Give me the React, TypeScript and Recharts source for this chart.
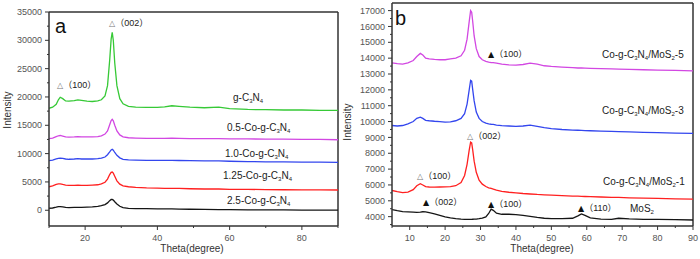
import { LineChart, Line, XAxis, YAxis, ReferenceLine } from "recharts";

// panel a: Co-g-C3N4 series
const THETA_A = [10, 11, 12, 12.6, 13.1, 13.8, 14.6, 15.5, 17, 18, 19, 20.5, 22, 23.5, 24.5, 25.5, 26.2, 26.8, 27.2, 27.5, 27.8, 28.2, 28.8, 29.6, 30.5, 32, 34, 37, 40, 42, 44, 46, 49, 53, 57, 60, 65, 70, 75, 80, 85, 90];
const G_C3N4 = [18000, 18200, 18700, 19500, 19950, 19700, 19300, 19250, 19350, 19500, 19400, 19250, 19200, 19300, 19500, 20200, 22000, 26500, 30200, 31400, 30000, 26000, 22000, 19700, 18800, 18350, 18200, 18150, 18150, 18250, 18450, 18350, 18200, 18100, 18200, 17950, 17800, 17750, 17700, 17700, 17650, 17650];
const CO_05 = [12650, 12750, 13000, 13150, 13200, 13100, 12950, 12900, 12950, 13000, 12950, 12950, 12950, 13000, 13150, 13450, 14000, 15100, 15850, 16050, 15800, 15000, 14000, 13300, 12950, 12800, 12750, 12700, 12700, 12700, 12750, 12700, 12650, 12650, 12650, 12600, 12600, 12550, 12550, 12500, 12500, 12450];
const CO_10 = [8750, 8850, 9050, 9150, 9200, 9150, 9050, 9000, 9050, 9100, 9050, 9050, 9050, 9100, 9200, 9400, 9800, 10300, 10650, 10750, 10600, 10200, 9700, 9250, 9000, 8900, 8850, 8800, 8800, 8800, 8820, 8780, 8750, 8700, 8700, 8650, 8600, 8550, 8550, 8500, 8480, 8450];
const CO_125 = [4150, 4300, 4550, 4650, 4650, 4550, 4450, 4400, 4400, 4450, 4400, 4400, 4450, 4500, 4650, 4950, 5500, 6300, 6700, 6750, 6550, 6000, 5200, 4600, 4300, 4150, 4050, 3950, 3900, 3880, 3880, 3850, 3800, 3750, 3750, 3700, 3680, 3650, 3620, 3600, 3600, 3580];
const CO_25 = [350, 400, 550, 650, 650, 600, 500, 480, 500, 520, 520, 550, 600, 700, 800, 1000, 1300, 1700, 1900, 1900, 1800, 1500, 1100, 700, 450, 330, 300, 280, 250, 230, 230, 200, 180, 150, 120, 100, 80, 60, 50, 30, 20, 10];

// panel b: Co-g-C3N4/MoS2 series
const THETA_B = [5, 6.5, 8, 9.5, 11, 12, 13, 13.7, 14.5, 15.5, 17, 18.5, 20, 21.5, 23, 24.5, 25.5, 26.2, 26.8, 27.2, 27.5, 27.8, 28.2, 28.8, 29.6, 30.5, 31.5, 32.3, 33, 33.6, 34.5, 36, 38, 40, 42, 44, 46, 48, 50, 53, 56, 57.5, 58.5, 59.5, 61, 64, 67, 69, 72, 76, 80, 85, 90];
const MOS2_5 = [13700, 13650, 13620, 13700, 13850, 14100, 14300, 14200, 14000, 13950, 13920, 13900, 13900, 13950, 14000, 14150, 14500, 15200, 16300, 17000, 16900, 16300, 15400, 14600, 14100, 13900, 13800, 13750, 13720, 13720, 13680, 13620, 13580, 13560, 13600, 13680, 13620, 13520, 13480, 13440, 13400, 13380, 13380, 13370, 13360, 13340, 13320, 13310, 13290, 13270, 13250, 13230, 13200];
const MOS2_3 = [9750, 9720, 9750, 9850, 10000, 10200, 10280, 10200, 10080, 10050, 10020, 10000, 9960, 9980, 10050, 10200, 10500, 11100, 12000, 12600, 12550, 12000, 11300, 10600, 10200, 10000, 9900, 9850, 9830, 9820, 9780, 9740, 9720, 9700, 9720, 9780, 9700, 9620, 9560, 9500, 9460, 9450, 9440, 9430, 9420, 9400, 9380, 9370, 9350, 9320, 9300, 9270, 9250];
const MOS2_1 = [5650, 5580, 5520, 5550, 5700, 5950, 6080, 6000, 5900, 5870, 5860, 5870, 5880, 5900, 5950, 6150, 6600, 7300, 8200, 8700, 8650, 8200, 7500, 6800, 6300, 6050, 5900, 5820, 5780, 5740, 5680, 5600, 5540, 5500, 5460, 5430, 5400, 5380, 5360, 5330, 5300, 5290, 5280, 5270, 5260, 5240, 5220, 5210, 5190, 5170, 5150, 5120, 5100];
const MOS2 = [4450, 4380, 4320, 4300, 4280, 4270, 4290, 4310, 4300, 4250, 4170, 4080, 3980, 3920, 3870, 3840, 3830, 3830, 3830, 3830, 3830, 3835, 3840, 3850, 3870, 3900, 3980, 4200, 4470, 4400, 4220, 4150, 4150, 4130, 4080, 4020, 3950, 3900, 3880, 3870, 3900, 4050, 4170, 4080, 3920, 3840, 3830, 3900, 3860, 3830, 3830, 3810, 3790];

const X_TICKS_A = [10, 20, 30, 40, 50, 60, 70, 80, 90];
const Y_TICKS_A = [0, 2500, 5000, 7500, 10000, 12500, 15000, 17500, 20000, 22500, 25000, 27500, 30000, 32500, 35000];
const X_TICKS_B = [5, 10, 15, 20, 25, 30, 35, 40, 45, 50, 55, 60, 65, 70, 75, 80, 85, 90];
const Y_TICKS_B = [3500, 4000, 4500, 5000, 5500, 6000, 6500, 7000, 7500, 8000, 8500, 9000, 9500, 10000, 10500, 11000, 11500, 12000, 12500, 13000, 13500, 14000, 14500, 15000, 15500, 16000, 16500, 17000];

const rowsA = THETA_A.map((x, i) => ({ x, g: G_C3N4[i], c05: CO_05[i], c10: CO_10[i], c125: CO_125[i], c25: CO_25[i] }));
const rowsB = THETA_B.map((x, i) => ({ x, m5: MOS2_5[i], m3: MOS2_3[i], m1: MOS2_1[i], m0: MOS2[i] }));

const AXIS = "#333";
const LABEL = "#555";
const FONT = "'Liberation Sans', Arial, sans-serif";
const GREEN = "#36c936";
const MAGENTA = "#d247e2";
const BLUE = "#3346ee";
const RED = "#ff2020";
const BLACK = "#151515";

function yTick(step: number) {
  return (p: any) => {
    const v = p.payload.value;
    const major = v % step === 0;
    return (
      <g>
        <line x1={p.x} x2={p.x - (major ? 4 : 2)} y1={p.y} y2={p.y} stroke={AXIS} strokeWidth={1} />
        {major && (
          <text x={p.x - 7} y={p.y} dy="0.35em" textAnchor="end" fontSize={9} fill={LABEL} fontFamily={FONT}>
            {v}
          </text>
        )}
      </g>
    );
  };
}

function xTick(step: number) {
  return (p: any) => {
    const v = p.payload.value;
    const major = v % step === 0;
    return (
      <g>
        <line x1={p.x} x2={p.x} y1={p.y} y2={p.y + (major ? 4 : 2)} stroke={AXIS} strokeWidth={1} />
        {major && (
          <text x={p.x} y={p.y + 15} textAnchor="middle" fontSize={9} fill={LABEL} fontFamily={FONT}>
            {v}
          </text>
        )}
      </g>
    );
  };
}

function Sample({ x, y, pre }: { x: number; y: number; pre: string }) {
  return (
    <text x={x} y={y} fontSize={10} fill="#222" fontFamily={FONT}>
      {pre}C<tspan fontSize={6} dy={2}>3</tspan>
      <tspan dy={-2}>N</tspan>
      <tspan fontSize={6} dy={2}>4</tspan>
    </text>
  );
}

function MoS({ x, y, suffix }: { x: number; y: number; suffix: string }) {
  return (
    <text x={x} y={y} fontSize={10} fill="#222" fontFamily={FONT}>
      Co-g-C<tspan fontSize={6} dy={2}>3</tspan>
      <tspan dy={-2}>N</tspan>
      <tspan fontSize={6} dy={2}>4</tspan>
      <tspan dy={-2}>/MoS</tspan>
      <tspan fontSize={6} dy={2}>2</tspan>
      <tspan dy={-2}>{suffix}</tspan>
    </text>
  );
}

function Peak({ x, y, mark, hkl }: { x: number; y: number; mark: string; hkl: string }) {
  return (
    <text x={x} y={y} fontSize={9} fill="#222" fontFamily={FONT}>
      <tspan fill={mark === "△" ? "#777" : "#111"} fontFamily="DejaVu Sans" fontSize={8}>{mark}</tspan>
      <tspan fontFamily="'Noto Sans CJK SC', sans-serif">（</tspan>
      {hkl}
      <tspan fontFamily="'Noto Sans CJK SC', sans-serif">）</tspan>
    </text>
  );
}

export default function App() {
  const lineProps = { type: "linear" as const, dot: false, isAnimationActive: false, strokeWidth: 1.3 };
  return (
    <div style={{ position: "absolute", left: 0, top: 0, width: 700, height: 259, background: "#fff" }}>
      <div style={{ position: "absolute", left: 0, top: 0 }}>
        <LineChart width={345} height={259} data={rowsA} margin={{ top: 12, right: 7, bottom: 0, left: 0 }}>
          <XAxis dataKey="x" type="number" domain={[10, 90]} ticks={X_TICKS_A} interval={0} height={33}
            stroke={AXIS} strokeWidth={1.5} tickSize={0} tickMargin={0} tickLine={false} tick={xTick(20)} allowDataOverflow />
          <YAxis type="number" domain={[-2780, 35000]} ticks={Y_TICKS_A} interval={0} width={49}
            stroke={AXIS} strokeWidth={1.5} tickSize={0} tickMargin={0} tickLine={false} tick={yTick(5000)} allowDataOverflow />
          <ReferenceLine x={90} stroke={AXIS} strokeWidth={1.5} />
          <ReferenceLine y={35000} stroke={AXIS} strokeWidth={1.5} />
          <Line dataKey="c25" stroke={BLACK} {...lineProps} />
          <Line dataKey="c125" stroke={RED} {...lineProps} />
          <Line dataKey="c10" stroke={BLUE} {...lineProps} />
          <Line dataKey="c05" stroke={MAGENTA} {...lineProps} />
          <Line dataKey="g" stroke={GREEN} {...lineProps} />
        </LineChart>
      </div>
      <div style={{ position: "absolute", left: 345, top: 0 }}>
        <LineChart width={355} height={259} data={rowsB} margin={{ top: 3, right: 7, bottom: 0, left: 0 }}>
          <XAxis dataKey="x" type="number" domain={[5, 90]} ticks={X_TICKS_B} interval={0} height={33}
            stroke={AXIS} strokeWidth={1.5} tickSize={0} tickMargin={0} tickLine={false} tick={xTick(10)} allowDataOverflow />
          <YAxis type="number" domain={[3410, 17480]} ticks={Y_TICKS_B} interval={0} width={47}
            stroke={AXIS} strokeWidth={1.5} tickSize={0} tickMargin={0} tickLine={false} tick={yTick(1000)} allowDataOverflow />
          <ReferenceLine x={90} stroke={AXIS} strokeWidth={1.5} />
          <ReferenceLine y={17480} stroke={AXIS} strokeWidth={1.5} />
          <Line dataKey="m0" stroke={BLACK} {...lineProps} />
          <Line dataKey="m1" stroke={RED} {...lineProps} />
          <Line dataKey="m3" stroke={BLUE} {...lineProps} />
          <Line dataKey="m5" stroke={MAGENTA} {...lineProps} />
        </LineChart>
      </div>
      <svg width={700} height={259} style={{ position: "absolute", left: 0, top: 0, pointerEvents: "none" }}>
        {/* panel a */}
        <text x={55} y={33} fontSize={20} fill="#111" fontFamily={FONT}>a</text>
        <text transform="translate(11,110) rotate(-90)" textAnchor="middle" fontSize={10} fill="#333" fontFamily={FONT}>Intensity</text>
        <text x={192} y={252} textAnchor="middle" fontSize={10} fill="#333" fontFamily={FONT}>Theta(degree)</text>
        <Peak x={109} y={26} mark="△" hkl="002" />
        <Peak x={57} y={88} mark="△" hkl="100" />
        <Sample x={233} y={101} pre="g-" />
        <Sample x={227} y={131} pre="0.5-Co-g-" />
        <Sample x={225} y={157} pre="1.0-Co-g-" />
        <Sample x={223} y={179} pre="1.25-Co-g-" />
        <Sample x={227} y={204} pre="2.5-Co-g-" />
        {/* panel b */}
        <text x={395} y={25} fontSize={20} fill="#111" fontFamily={FONT}>b</text>
        <text transform="translate(351,122) rotate(-90)" textAnchor="middle" fontSize={10} fill="#333" fontFamily={FONT}>Intensity</text>
        <text x={542} y={252} textAnchor="middle" fontSize={10} fill="#333" fontFamily={FONT}>Theta(degree)</text>
        <Peak x={488} y={57} mark="▲" hkl="100" />
        <MoS x={602} y={58} suffix="-5" />
        <MoS x={602} y={114} suffix="-3" />
        <Peak x={467} y={139} mark="△" hkl="002" />
        <MoS x={603} y={185} suffix="-1" />
        <Peak x={417} y={179} mark="△" hkl="100" />
        <Peak x={423} y={205} mark="▲" hkl="002" />
        <Peak x={488} y={207} mark="▲" hkl="100" />
        <Peak x={578} y={211} mark="▲" hkl="110" />
        <text x={630} y={212} fontSize={10} fill="#222" fontFamily={FONT}>
          MoS<tspan fontSize={6} dy={2}>2</tspan>
        </text>
      </svg>
    </div>
  );
}
